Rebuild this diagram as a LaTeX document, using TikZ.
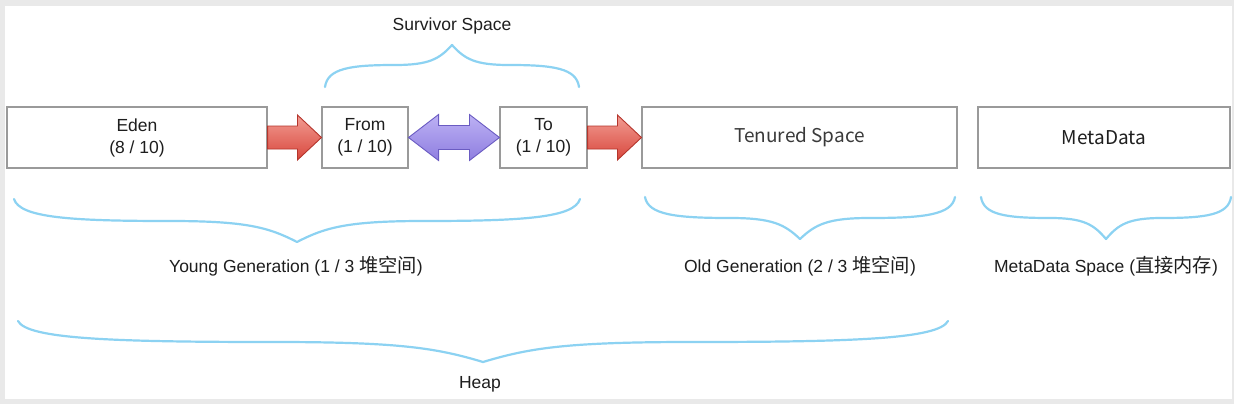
\documentclass[tikz,border=0pt]{standalone}
\usepackage{fontspec}
\setmainfont{Liberation Sans}
\newfontfamily\cjk{Noto Sans CJK SC}[Scale=1.1]
\newfontfamily\yahei{Noto Sans CJK SC}
\usetikzlibrary{calc}
\definecolor{boxline}{HTML}{9A9A9A}
\definecolor{txt}{HTML}{1E1E1E}
\definecolor{txtb}{HTML}{3A3A3A}
\definecolor{bracec}{HTML}{8CD2F2}
\definecolor{redtop}{HTML}{F29C92}
\definecolor{redbot}{HTML}{D8473D}
\definecolor{redline}{HTML}{B5352C}
\definecolor{purtop}{HTML}{BDB1F4}
\definecolor{purbot}{HTML}{8E7EE0}
\definecolor{purline}{HTML}{6A5BC2}
\definecolor{framec}{HTML}{E9E9E9}
\tikzset{
  membox/.style={draw=boxline, line width=1.1pt, fill=white, minimum height=61pt,
    inner sep=0pt, align=center, text=txt, font=\fontsize{17.5}{22}\selectfont},
  membox2/.style={membox, text=txtb, font=\yahei\fontsize{19}{22}\selectfont},
  lbl/.style={text=txt, font=\fontsize{17.5}{22}\selectfont, inner sep=0pt},
  bracestyle/.style={draw=bracec, line width=2.2pt, line cap=round, line join=round},
  redarrow/.style={top color=redtop, bottom color=redbot, draw=redline, line width=0.9pt, line join=miter},
  purarrow/.style={top color=purtop, bottom color=purbot, draw=purline, line width=0.9pt, line join=miter}
}
\newcommand{\curlybrace}[5]{%
  \pgfmathsetmacro{\bm}{(#1+#2)/2}%
  \pgfmathsetmacro{\bh}{(#2-#1)/2}%
  \pgfmathsetmacro{\ca}{#1+0.02*\bh}\pgfmathsetmacro{\cb}{#3+0.85*(#4-#3)}%
  \pgfmathsetmacro{\cc}{#1+0.2*\bh}%
  \pgfmathsetmacro{\pa}{#1+0.55*\bh}%
  \pgfmathsetmacro{\cd}{#1+0.82*\bh}%
  \pgfmathsetmacro{\ce}{\bm-0.1*\bh}\pgfmathsetmacro{\cf}{#4+0.3*(#5-#4)}%
  \pgfmathsetmacro{\da}{#2-0.02*\bh}%
  \pgfmathsetmacro{\dc}{#2-0.2*\bh}%
  \pgfmathsetmacro{\qa}{#2-0.55*\bh}%
  \pgfmathsetmacro{\dd}{#2-0.82*\bh}%
  \pgfmathsetmacro{\de}{\bm+0.1*\bh}%
  \draw[bracestyle] (#1,#3) .. controls (\ca,\cb) and (\cc,#4) .. (\pa,#4)
     .. controls (\cd,#4) and (\ce,\cf) .. (\bm,#5)
     .. controls (\de,\cf) and (\dd,#4) .. (\qa,#4)
     .. controls (\dc,#4) and (\da,\cb) .. (#2,#3);
}
\begin{document}
\begin{tikzpicture}[x=1pt,y=-1pt]
\useasboundingbox (0,0) rectangle (1234,404);
\fill[framec] (0,0) rectangle (1234,404);
\fill[white] (5,6) rectangle (1232,399);

% boxes
\node[membox, minimum width=260pt] (eden) at (137,137.5) {Eden\\(8 / 10)};
\node[membox, minimum width=86pt] (from) at (365,137.5) {From\\(1 / 10)};
\node[membox, minimum width=87pt] (to) at (543.5,137.5) {To\\(1 / 10)};
\node[membox2, minimum width=315pt] (tenured) at (799.5,137.5) {Tenured Space};
\node[membox2, text=txt, minimum width=252pt] (meta) at (1104,137.5) {MetaData};

% red arrows
\draw[redarrow] ($(eden.east)+(0,-11.5)$) -- ($(from.west)+(-24,-11.5)$) -- ($(from.west)+(-24,-22.5)$)
  -- (from.west) -- ($(from.west)+(-24,22.5)$) -- ($(from.west)+(-24,11.5)$) -- ($(eden.east)+(0,11.5)$) -- cycle;
\draw[redarrow] ($(to.east)+(0,-11.5)$) -- ($(tenured.west)+(-24,-11.5)$) -- ($(tenured.west)+(-24,-22.5)$)
  -- (tenured.west) -- ($(tenured.west)+(-24,22.5)$) -- ($(tenured.west)+(-24,11.5)$) -- ($(to.east)+(0,11.5)$) -- cycle;
% purple double arrow
\draw[purarrow] (from.east) -- ($(from.east)+(30,-23)$) -- ($(from.east)+(30,-12)$) -- ($(to.west)+(-30,-12)$)
  -- ($(to.west)+(-30,-23)$) -- (to.west) -- ($(to.west)+(-30,23)$) -- ($(to.west)+(-30,12)$)
  -- ($(from.east)+(30,12)$) -- ($(from.east)+(30,23)$) -- cycle;

% braces
\curlybrace{325}{579}{87}{65}{45}
\curlybrace{14}{580}{199}{221}{242}
\curlybrace{645}{955}{197}{218}{239}
\curlybrace{981}{1231}{197}{218}{239}
\curlybrace{18}{948}{321}{342}{362}

% labels
\node[lbl] (survivor) at (452,26) {Survivor Space};
\node[lbl] (young) at (296,266) {Young Generation (1 / 3 {\cjk 堆空间})};
\node[lbl] (old) at (800,266) {Old Generation (2 / 3 {\cjk 堆空间})};
\node[lbl] (metasp) at (1106,266) {MetaData Space ({\cjk 直接内存})};
\node[lbl] (heap) at (480,384) {Heap};
\end{tikzpicture}
\end{document}
